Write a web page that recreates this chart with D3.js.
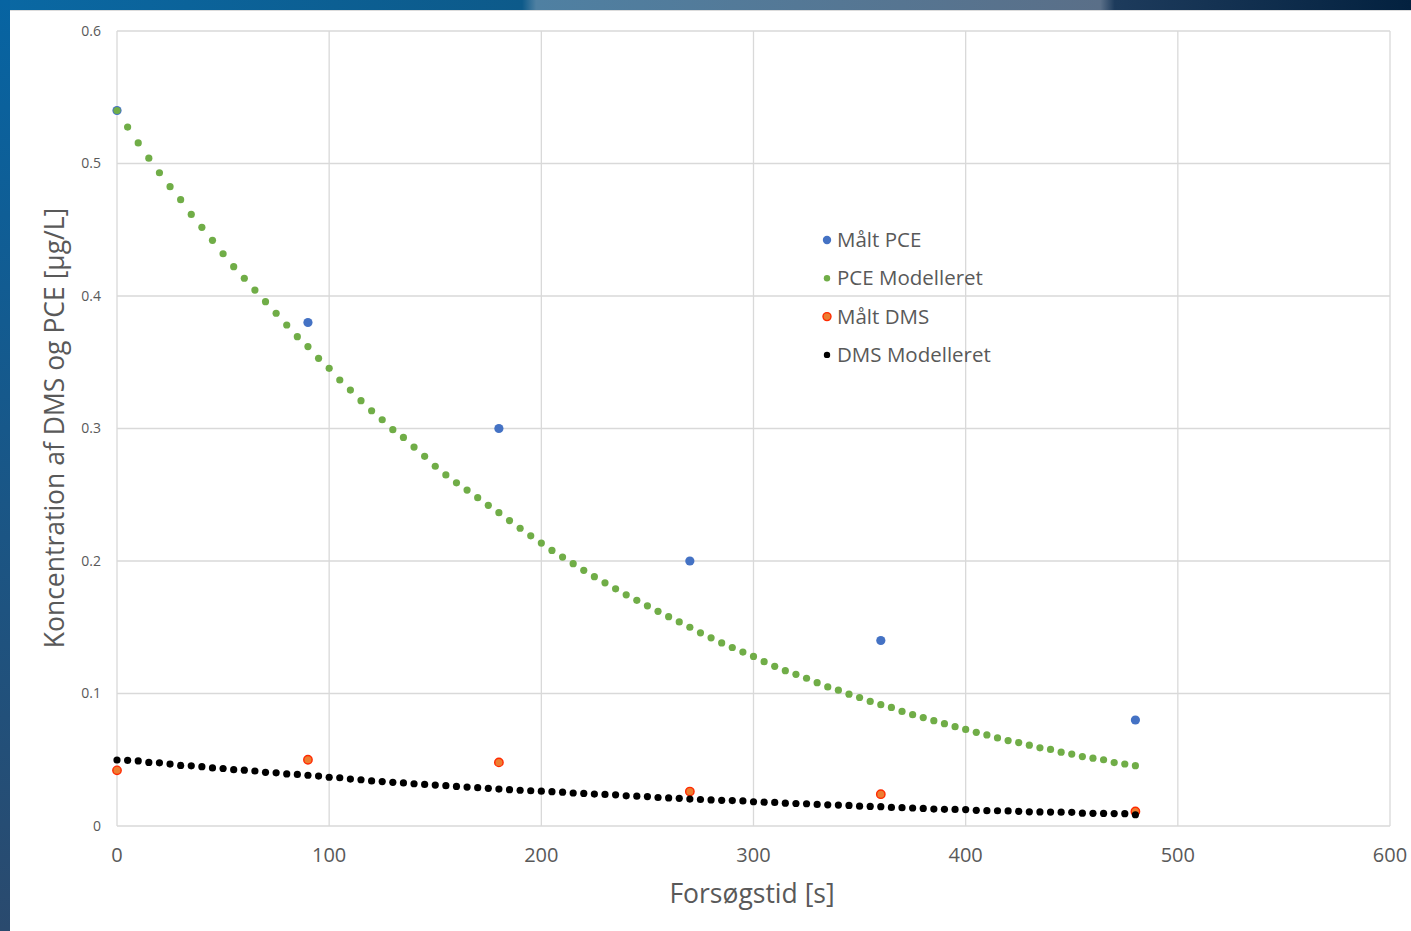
<!DOCTYPE html>
<meta charset="utf-8">

<style>
body { margin: 0; background: #fff; }
svg { display: block; font-family: "Open Sans", Lato, sans-serif; }
.grid line { stroke: #d9d9d9; stroke-width: 1.3px; }
.ytick text { font-size: 14px; fill: #595959; }
.xtick text { font-size: 20px; fill: #595959; }
.axis-title { fill: #595959; }
.legend text { font-size: 20.5px; fill: #595959; }
</style>

<svg width="1411" height="931"></svg>

<script src="https://d3js.org/d3.v7.min.js"></script>

<script>

// measured points
var maaltTid = [0, 90, 180, 270, 360, 480];
var maaltPCE = [0.54, 0.38, 0.30, 0.20, 0.14, 0.08];
var maaltDMS = [0.042, 0.050, 0.048, 0.026, 0.024, 0.011];

// modelled curves, one point every 5 s from 0 to 480 s
var modelTid = d3.range(0, 481, 5);
var pceModel = [
  0.540, 0.5275, 0.5155, 0.504, 0.493, 0.4825, 0.4727, 0.4616, 0.4518, 0.442,
  0.4319, 0.4221, 0.4134, 0.4045, 0.3957, 0.387, 0.3781, 0.3693, 0.3618, 0.353,
  0.3454, 0.3366, 0.329, 0.321, 0.3134, 0.3066, 0.2991, 0.2933, 0.286, 0.279,
  0.2715, 0.265, 0.259, 0.2535, 0.2478, 0.242, 0.2365, 0.2305, 0.2247, 0.219,
  0.2135, 0.208, 0.203, 0.198, 0.193, 0.1882, 0.1835, 0.179, 0.1745, 0.1703,
  0.1662, 0.162, 0.158, 0.154, 0.150, 0.1458, 0.142, 0.1382, 0.1347, 0.1313,
  0.128, 0.124, 0.1205, 0.1172, 0.1145, 0.1115, 0.1082, 0.105, 0.1025, 0.0995,
  0.097, 0.094, 0.0916, 0.0895, 0.0865, 0.084, 0.0818, 0.0795, 0.0772, 0.075,
  0.0729, 0.0707, 0.0687, 0.0665, 0.0645, 0.063, 0.061, 0.059, 0.0578, 0.0557,
  0.0543, 0.0524, 0.0512, 0.050, 0.0479, 0.0468, 0.0455
];
var dmsModel = [
  0.0498, 0.0496, 0.0491, 0.0480, 0.0477, 0.0467, 0.0457, 0.0454, 0.0448, 0.0438,
  0.0434, 0.0425, 0.0421, 0.0415, 0.0405, 0.0401, 0.0393, 0.0389, 0.0383, 0.0377,
  0.0368, 0.0364, 0.0354, 0.0349, 0.0340, 0.0335, 0.0330, 0.0325, 0.0319, 0.0314,
  0.0309, 0.0304, 0.0299, 0.0294, 0.0289, 0.0284, 0.0279, 0.0274, 0.0270, 0.0266,
  0.0263, 0.0259, 0.0255, 0.0249, 0.0246, 0.0241, 0.0238, 0.0235, 0.0228, 0.0225,
  0.0222, 0.0215, 0.0212, 0.0209, 0.0203, 0.0200, 0.0197, 0.0194, 0.0192, 0.0189,
  0.0183, 0.0180, 0.0178, 0.0172, 0.0170, 0.0168, 0.0163, 0.0160, 0.0158, 0.0155,
  0.0150, 0.0148, 0.0146, 0.0140, 0.0138, 0.0136, 0.0133, 0.0128, 0.0126, 0.0125,
  0.0124, 0.0118, 0.0116, 0.0115, 0.0114, 0.0111, 0.0107, 0.0106, 0.0105, 0.0104,
  0.0103, 0.0097, 0.0096, 0.0095, 0.0094, 0.0093, 0.0085
];

var xTicks = [0, 100, 200, 300, 400, 500, 600];
var yTicks = [0, 0.1, 0.2, 0.3, 0.4, 0.5, 0.6];
var seriesNames = ["Målt PCE", "PCE Modelleret", "Målt DMS", "DMS Modelleret"];

var svg = d3.select("svg");

// slide background: banner on top, strip on the left
var defs = svg.append("defs");
var topGrad = defs.append("linearGradient").attr("id", "topband");
topGrad.append("stop").attr("offset", "0%").attr("stop-color", "#0a68a3");
topGrad.append("stop").attr("offset", "37%").attr("stop-color", "#0d5a8a");
topGrad.append("stop").attr("offset", "38%").attr("stop-color", "#4f80a2");
topGrad.append("stop").attr("offset", "78%").attr("stop-color", "#5a6f88");
topGrad.append("stop").attr("offset", "79%").attr("stop-color", "#1d3b5c");
topGrad.append("stop").attr("offset", "100%").attr("stop-color", "#03213f");
var leftGrad = defs.append("linearGradient").attr("id", "leftband")
    .attr("x1", 0).attr("y1", 0).attr("x2", 0).attr("y2", 1);
leftGrad.append("stop").attr("offset", "0%").attr("stop-color", "#0764a2");
leftGrad.append("stop").attr("offset", "100%").attr("stop-color", "#2a4a6e");

svg.append("rect").attr("x", 0).attr("y", 0).attr("width", 1411).attr("height", 10).attr("fill", "url(#topband)");
svg.append("rect").attr("x", 0).attr("y", 0).attr("width", 10).attr("height", 931).attr("fill", "url(#leftband)");
svg.append("line").attr("x1", 10).attr("x2", 1411).attr("y1", 10.5).attr("y2", 10.5).attr("stroke", "#dcdcdc");

var x = d3.scaleLinear().domain([0, 600]).range([117, 1390]);
var y = d3.scaleLinear().domain([0, 0.6]).range([826, 31]);

// gridlines
var grid = svg.append("g").attr("class", "grid");
grid.selectAll("line.v").data(xTicks).enter().append("line")
    .attr("x1", function(d) { return x(d); }).attr("x2", function(d) { return x(d); })
    .attr("y1", y(0.6)).attr("y2", y(0));
grid.selectAll("line.h").data(yTicks).enter().append("line")
    .attr("x1", x(0)).attr("x2", x(600))
    .attr("y1", function(d) { return y(d); }).attr("y2", function(d) { return y(d); });

// tick labels
svg.append("g").attr("class", "ytick").selectAll("text").data(yTicks).enter().append("text")
    .attr("x", 101).attr("y", function(d) { return y(d); }).attr("dy", "0.35em")
    .attr("text-anchor", "end")
    .text(function(d) { return d === 0 ? "0" : d3.format(".1f")(d); });

svg.append("g").attr("class", "xtick").selectAll("text").data(xTicks).enter().append("text")
    .attr("x", function(d) { return x(d); }).attr("y", 862)
    .attr("text-anchor", "middle")
    .text(function(d) { return d; });

// axis titles
svg.append("text").attr("class", "axis-title")
    .attr("x", 752).attr("y", 903).attr("text-anchor", "middle")
    .style("font-size", "26.5px")
    .text("Forsøgstid [s]");

svg.append("text").attr("class", "axis-title")
    .attr("transform", "translate(64,428) rotate(-90)")
    .attr("text-anchor", "middle")
    .style("font-size", "26.5px")
    .text("Koncentration af DMS og PCE [µg/L]");

// series, drawn in legend order
var pts = svg.append("g");

pts.append("g").selectAll("circle").data(maaltTid).enter().append("circle")
    .attr("cx", function(d) { return x(d); })
    .attr("cy", function(d, i) { return y(maaltPCE[i]); })
    .attr("r", 4.6).attr("fill", "#4472c4");

pts.append("g").selectAll("circle").data(modelTid).enter().append("circle")
    .attr("cx", function(d) { return x(d); })
    .attr("cy", function(d, i) { return y(pceModel[i]); })
    .attr("r", 3.6).attr("fill", "#70ad47");

pts.append("g").selectAll("circle").data(maaltTid).enter().append("circle")
    .attr("cx", function(d) { return x(d); })
    .attr("cy", function(d, i) { return y(maaltDMS[i]); })
    .attr("r", 4.2).attr("fill", "#ed7d31").attr("stroke", "#ff2a00").attr("stroke-width", 1.4);

pts.append("g").selectAll("circle").data(modelTid).enter().append("circle")
    .attr("cx", function(d) { return x(d); })
    .attr("cy", function(d, i) { return y(dmsModel[i]); })
    .attr("r", 3.6).attr("fill", "#000");

// legend
var legendStyle = [
  { fill: "#4472c4", stroke: "none", r: 4.2 },
  { fill: "#70ad47", stroke: "none", r: 3.2 },
  { fill: "#ed7d31", stroke: "#ff2a00", r: 4 },
  { fill: "#000", stroke: "none", r: 3.2 }
];
var legend = svg.append("g").attr("class", "legend");
var item = legend.selectAll("g").data(seriesNames).enter().append("g")
    .attr("transform", function(d, i) { return "translate(827," + (240 + i * 38.3) + ")"; });
item.append("circle")
    .attr("r", function(d, i) { return legendStyle[i].r; })
    .attr("fill", function(d, i) { return legendStyle[i].fill; })
    .attr("stroke", function(d, i) { return legendStyle[i].stroke; })
    .attr("stroke-width", 1.4);
item.append("text").attr("x", 10).attr("dy", "0.35em").text(function(d) { return d; });

</script>
